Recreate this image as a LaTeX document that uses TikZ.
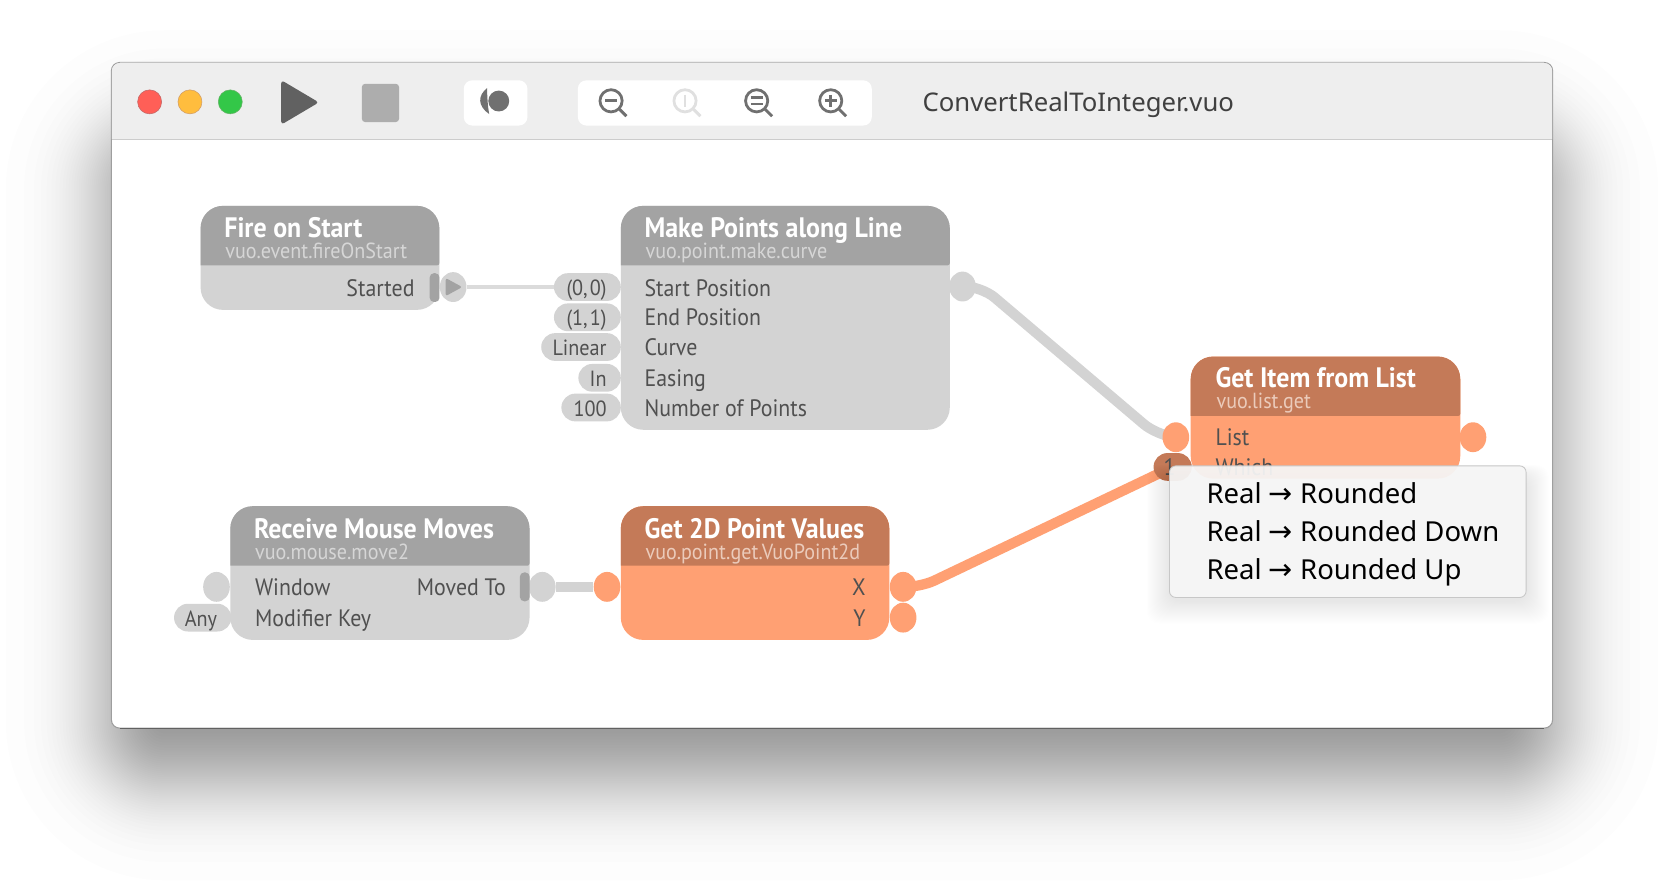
\documentclass[tikz,border=0pt]{standalone}
\usepackage{fontspec}
\usetikzlibrary{shapes.geometric}
\setmainfont{PT Sans}
\newfontfamily\vuofont[FakeStretch=0.92]{PT Sans}
\newfontfamily\uifont{Noto Sans}
\newfontfamily\arrowfont{DejaVu Sans}
\definecolor{grayhead}{HTML}{A3A3A3}
\definecolor{graybody}{HTML}{D3D3D3}
\definecolor{orangehead}{HTML}{C47A58}
\definecolor{orangebody}{HTML}{FFA073}
\definecolor{inktext}{HTML}{505050}
\definecolor{subgray}{HTML}{D6D6D6}
\definecolor{suborange}{HTML}{EBCBBB}
\definecolor{iconcol}{HTML}{707070}
\definecolor{iconpale}{HTML}{E0E0E0}
\definecolor{barcol}{HTML}{EEEEEE}
\pgfdeclarelayer{back}
\pgfdeclarelayer{cables}
\pgfsetlayers{back,cables,main}
\tikzset{
  x=0.4975pt,y=-0.4975pt,
  titletext/.style={anchor=base west,inner sep=0,yshift=-.5pt,text=white,font=\vuofont\bfseries\fontsize{13.2}{15}\selectfont},
  subtext/.style={anchor=base west,inner sep=0,yshift=-.5pt,font=\vuofont\fontsize{10.25}{12}\selectfont},
  rowl/.style={anchor=base west,inner sep=0,yshift=-.5pt,text=inktext,font=\vuofont\fontsize{11.15}{13}\selectfont},
  rowr/.style={anchor=base east,inner sep=0,yshift=-.5pt,text=inktext,font=\vuofont\fontsize{11.15}{13}\selectfont},
  pilltext/.style={anchor=base east,inner sep=0,yshift=-.5pt,text=inktext,font=\vuofont\fontsize{10.3}{13}\selectfont},
  port/.style={ellipse,inner sep=0,minimum width=12.5pt,minimum height=14pt},
  cable/.style={line width=4.8pt,rounded corners=8pt},
  zoomicon/.style={line width=1.35pt},
  menutext/.style={anchor=base west,inner sep=0,text=black,font=\uifont\fontsize{12.9}{16}\selectfont},
  light/.style={circle,line width=.25pt,inner sep=0,minimum size=11.25pt},
}
% name, x0,y0,x1,y1, header bottom, body colour, head colour
\newcommand{\vuobox}[8]{%
  \node[fill=#7,inner sep=0,rounded corners=10.5pt,minimum width={(#4-#2)*0.4975pt},minimum height={(#5-#3)*0.4975pt}] (#1) at ({(#2+#4)/2},{(#3+#5)/2}) {};
  \fill[#8] (#2,#6) [rounded corners=10.5pt] -- (#2,#3) -- (#4,#3) [rounded corners=1pt] -- (#4,#6) [sharp corners] -- cycle;
}
% name, left x, centre y, text, right x, colour
\newcommand{\pill}[6][graybody]{%
  \node[fill=#1,inner sep=0,rounded corners=6.5pt,minimum width={(#6-#3)*0.4975pt},minimum height=13pt] (#2) at ({(#3+#6)/2},#4) {};
  \node[pilltext] (#2t) at (#6-13,#4+7) {\spaceskip=.1em #5};
}
\newcommand{\magnifier}[3]{%
  \node[draw=#3,line width=1.3pt,circle,inner sep=0,minimum size=10.4pt] (#1c) at (#2,95) {};
  \coordinate (#1a) at (#2+8,95+8);
  \coordinate (#1b) at (#2+14.5,95+14.5);
  \draw[zoomicon,#3] (#1a) -- (#1b);
}
\begin{document}
\begin{tikzpicture}
\useasboundingbox (0,0) rectangle (1568,836.2);
\begin{pgfonlayer}{back}
\fill[white] (0,0) rectangle (1568,836.2);
% window shadow
\foreach \i in {1,...,56}{
  \pgfmathsetmacro\p{(\i-.5)/56}
  \pgfmathsetmacro\d{40*4.91*(pow(\p,.14)-pow(1-\p,.14))}
  \pgfmathsetmacro\r{max(6,55+\d)*0.4975}
  \fill[black,fill opacity=.0079,rounded corners=\r pt] ({100-\d},{123-\d}) rectangle ({1468+\d},{735+\d});
}
% window
\node[fill=white,draw=black!38,line width=.5pt,inner sep=0,rounded corners=3.8pt,minimum width=675.6pt,minimum height=312pt] (win) at (784,372.5) {};
\fill[barcol] (105.4,131) [rounded corners=3.8pt] -- (105.4,59.4) -- (1462.6,59.4) [sharp corners] -- (1462.6,131) -- cycle;
\coordinate (barl) at (105.5,131.5);
\coordinate (barr) at (1462.5,131.5);
\draw[black!20,line width=.6pt] (barl) -- (barr);
\coordinate (wintl) at (113,59.2);
\coordinate (wintr) at (1455,59.2);
\draw[black!24,line width=.5pt] (wintl) -- (wintr);
\coordinate (winbl) at (113,686.2);
\coordinate (winbr) at (1455,686.2);
\draw[black!62,line width=.6pt] (winbl) -- (winbr);
% toolbar
\node[light,draw=red!60!black!60,fill={rgb,255:red,255;green,95;blue,87}] (closeb) at (141,96) {};
\node[light,draw=orange!70!black!60,fill={rgb,255:red,255;green,189;blue,62}] (minb) at (179,96) {};
\node[light,draw=green!50!black!60,fill={rgb,255:red,51;green,199;blue,72}] (maxb) at (217,96) {};
\fill[black!62,rounded corners=1.5pt] (265,75.5) -- (300.5,96.5) -- (265,117.5) -- cycle;
\fill[black!32,rounded corners=1.5pt] (341,79) rectangle (376,115);
\node[fill=white,inner sep=0,rounded corners=4pt,minimum width=29.85pt,minimum height=21.2pt] (recbox) at (467,97) {};
\node[circle,fill=iconcol,inner sep=0,minimum size=9.8pt] (recdot) at (470,95.2) {};
\fill[iconcol] (459,83) .. controls (450,90) and (450,100) .. (461,107.5) .. controls (459.5,100) and (459,90) .. (459,83) -- cycle;
\node[fill=white,inner sep=0,rounded corners=4pt,minimum width=137.8pt,minimum height=21.2pt] (zoombox) at (683,97) {};
\magnifier{za}{575.8}{iconcol}
\magnifier{zb}{645.5}{iconpale}
\magnifier{zc}{713}{iconcol}
\magnifier{zd}{782.8}{iconcol}
\draw[iconcol,line width=1.35pt] (570.3,95) -- (581.3,95);
\draw[iconpale,line width=1.3pt] (645.5,89.5) -- (645.5,100.5);
\draw[iconcol,line width=1.25pt] (707.5,92) -- (718.5,92) (707.5,98) -- (718.5,98);
\draw[iconcol,line width=1.35pt] (777.3,95) -- (788.3,95) (782.8,89.5) -- (782.8,100.5);
\node[anchor=base west,inner sep=0,text=black!75,font=\uifont\fontsize{12.05}{15}\selectfont] (doctitle) at (869,105.5) {ConvertRealToInteger.vuo};
\end{pgfonlayer}

% ports
\node[port,fill=graybody] (firep) at (427,270.5) {};
\node[port,fill=graybody] (makeout) at (907,270) {};
\node[port,fill=orangebody] (listin) at (1108,412) {};
\node[port,fill=orangebody] (listout) at (1388,412) {};
\node[port,fill=graybody] (moveout) at (511,553) {};
\node[port,fill=graybody] (winin) at (204,553) {};
\node[port,fill=orangebody] (ptin) at (572,553) {};
\node[port,fill=orangebody] (xout) at (851,553) {};
\node[port,fill=orangebody] (yout) at (851,582) {};

\pill{startp}{522}{270.5}{(0, 0)}{585}
\pill{endp}{522}{299}{(1, 1)}{585}
\pill{curvep}{510}{327}{Linear}{585}
\pill{easep}{545}{356}{In}{585}
\pill{nump}{529}{384}{100}{585}
\pill{anyp}{164}{582}{Any}{218}
\pill[orangehead]{whichp}{1087}{440}{}{1123}
\node[rowr] (whichval) at (1108,447) {1};

\begin{pgfonlayer}{cables}
\draw[line width=1.5pt,color=black!14] (firep) -- (startp);
\draw[graybody,line width=4.8pt] (moveout) -- (ptin);
\coordinate (ca) at (925,270);
\coordinate (cb) at (1090,410);
\draw[cable,graybody] (makeout.center) -- (ca) -- (cb) -- (listin.center);
\coordinate (cc) at (866,554);
\draw[cable,orangebody] (xout.center) -- (cc) -- (whichp.center);
\end{pgfonlayer}

% node bodies
\vuobox{fire}{189}{194}{414}{292}{250}{graybody}{grayhead}
\vuobox{make}{585}{194}{895}{405}{250}{graybody}{grayhead}
\vuobox{mouse}{217}{477}{499}{603}{533}{graybody}{grayhead}
\vuobox{point}{585}{477}{838}{603}{533}{orangebody}{orangehead}
\vuobox{getitem}{1122}{336}{1376}{451}{392}{orangebody}{orangehead}

% event bars and arrow
\node[fill=grayhead,inner sep=0,rounded corners=2pt,minimum width=4.6pt,minimum height=13.5pt] (firebar) at (409.5,271) {};
\node[fill=grayhead,inner sep=0,rounded corners=2pt,minimum width=4.6pt,minimum height=13.5pt] (movebar) at (494.5,553) {};
\fill[grayhead,rounded corners=1pt] (420,262) -- (435.5,270.5) -- (420,279) -- cycle;

% node text
\node[titletext] (t1) at (211,223) {Fire on Start};
\node[subtext,text=subgray] (s1) at (212,243) {vuo.event.fireOnStart};
\node[rowr] (r1) at (391,278) {Started};
\node[titletext] (t2) at (607,223) {Make Points along Line};
\node[subtext,text=subgray] (s2) at (608,243) {vuo.point.make.curve};
\node[rowl] (r2) at (607,278) {Start Position};
\node[rowl] (r3) at (607,306) {End Position};
\node[rowl] (r4) at (607,334) {Curve};
\node[rowl] (r5) at (607,363) {Easing};
\node[rowl] (r6) at (607,391) {Number of Points};
\node[titletext] (t3) at (239,506) {Receive Mouse Moves};
\node[subtext,text=subgray] (s3) at (240,526) {vuo.mouse.move2};
\node[rowl] (r7) at (240,560) {Window};
\node[rowr] (r8) at (477,560) {Moved To};
\node[rowl] (r9) at (240,589) {Modifier Key};
\node[titletext] (t4) at (607,506) {Get 2D Point Values};
\node[subtext,text=suborange] (s4) at (608,526) {vuo.point.get.VuoPoint2d};
\node[rowr] (r10) at (816,560) {X};
\node[rowr] (r11) at (816,589) {Y};
\node[titletext] (t5) at (1145,364) {Get Item from List};
\node[subtext,text=suborange] (s5) at (1146,384) {vuo.list.get};
\node[rowl] (r12) at (1145,419) {List};
\node[rowl] (r13) at (1145,447) {Which};

% popup menu
\foreach \i in {1,...,24}{
  \fill[black,fill opacity=.005,rounded corners=6pt] ({1102-\i*.9},{450-\i*.5}) rectangle ({1438+\i*.9},{566+\i*.9});
}
\node[fill={rgb,255:red,246;green,246;blue,246},fill opacity=.94,draw=black!22,line width=.4pt,inner sep=0,rounded corners=3pt,minimum width=167.2pt,minimum height=61.7pt] (menu) at (1270,501) {};
\node[menutext] (m1) at (1136.5,474) {Real {\arrowfont\fontsize{13.5}{16}\selectfont →} Rounded};
\node[menutext] (m2) at (1136.5,510) {Real {\arrowfont\fontsize{13.5}{16}\selectfont →} Rounded Down};
\node[menutext] (m3) at (1136.5,546) {Real {\arrowfont\fontsize{13.5}{16}\selectfont →} Rounded Up};
\end{tikzpicture}
\end{document}
